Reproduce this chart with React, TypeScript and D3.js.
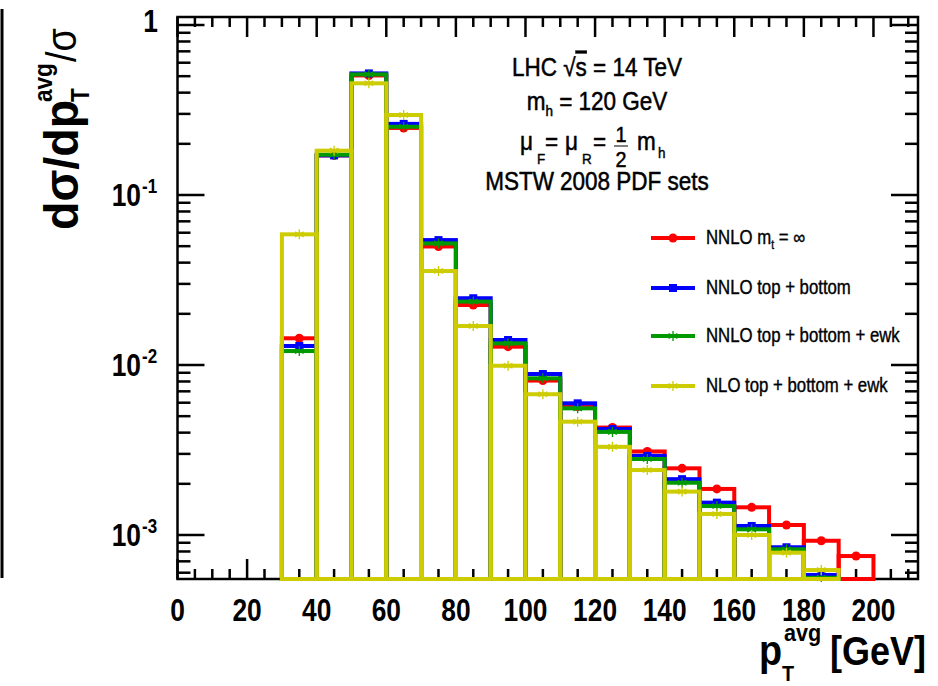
import React from 'react';
import * as d3 from 'd3';

// Bin lower edges in GeV; every bin is 10 GeV wide
const binLow = [30, 40, 50, 60, 70, 80, 90, 100, 110, 120, 130, 140, 150, 160, 170, 180, 190];
const binWidth = 10;

// Normalised distributions dσ/dp_T^avg / σ per bin
const nnloMtInf = [0.01436, 0.171, 0.505, 0.248, 0.0498, 0.02254, 0.01282, 0.0081, 0.0057, 0.004286, 0.0031, 0.002467, 0.001866, 0.001455, 0.001145, 0.000925, 0.000752];
const nnloTopBottom = [0.01294, 0.171, 0.519, 0.262, 0.0543, 0.0247, 0.01403, 0.00885, 0.00595, 0.0042, 0.00292, 0.00213, 0.00155, 0.00113, 0.000847, 0.000582, 0.00044];
const nnloTopBottomEwk = [0.01208, 0.1726, 0.512, 0.252, 0.0519, 0.0236, 0.0134, 0.00835, 0.00556, 0.00404, 0.0028, 0.00203, 0.00148, 0.00108, 0.000824, 0.00056, 0.00043];
const nloTopBottomEwk = [0.0587, 0.1823, 0.454, 0.2955, 0.0357, 0.01695, 0.0099, 0.00673, 0.00464, 0.0033, 0.00241, 0.0018, 0.00133, 0.001, 0.000787, 0.000622, 0.00048];

const xTickLabels = [0, 20, 40, 60, 80, 100, 120, 140, 160, 180, 200];
const yDecadeExponents = [0, -1, -2, -3];

const W = 938;
const H = 686;
const frame = { left: 177.5, right: 918, top: 17, bottom: 579 };
const FONT = 'Liberation Sans, Arial, Helvetica, sans-serif';

const x = d3.scaleLinear().domain([0, 212.8]).range([frame.left, frame.right]);
const y = d3.scaleLog().domain([5.51e-4, 1.1145]).range([frame.bottom, frame.top]);

type MarkerKind = 'circle' | 'square' | 'star';

const series: { label: string; values: number[]; color: string; marker: MarkerKind }[] = [
  { label: 'mtinf', values: nnloMtInf, color: '#ff0000', marker: 'circle' },
  { label: 'tb', values: nnloTopBottom, color: '#0000ff', marker: 'square' },
  { label: 'tbewk', values: nnloTopBottomEwk, color: '#009a00', marker: 'star' },
  { label: 'nlo', values: nloTopBottomEwk, color: '#cccc00', marker: 'star' },
];

function Marker({ kind, cx, cy, color }: { kind: MarkerKind; cx: number; cy: number; color: string }) {
  if (kind === 'circle') return <circle cx={cx} cy={cy} r={4.5} fill={color} />;
  if (kind === 'square') return <rect x={cx - 4} y={cy - 4} width={8} height={8} fill={color} />;
  const r = 5;
  const d = [90, 30, 150]
    .map((a) => {
      const t = (a * Math.PI) / 180;
      const dx = r * Math.cos(t);
      const dy = r * Math.sin(t);
      return `M${cx - dx},${cy - dy}L${cx + dx},${cy + dy}`;
    })
    .join('');
  return <path d={d} stroke={color} strokeWidth={1.3} fill="none" />;
}

function Txt({
  x: tx,
  y: ty,
  size,
  sx = 1,
  bold = false,
  heavy = 0,
  anchor = 'start',
  rotate = 0,
  children,
}: {
  x: number;
  y: number;
  size: number;
  sx?: number;
  bold?: boolean;
  heavy?: number;
  anchor?: 'start' | 'middle' | 'end';
  rotate?: number;
  children: React.ReactNode;
}) {
  return (
    <text
      transform={`translate(${tx},${ty}) rotate(${rotate}) scale(${sx},1)`}
      fontSize={size}
      fontWeight={bold ? 'bold' : 'normal'}
      textAnchor={anchor}
      fontFamily={FONT}
      fill="#000"
      stroke={heavy > 0 ? '#000' : 'none'}
      strokeWidth={heavy}
    >
      {children}
    </text>
  );
}

export default function App() {
  const yMin = y.domain()[0];

  // x ticks every 5 GeV, long every 20 GeV
  const xTicks = d3.range(0, 212.8, 5);
  // y ticks: decades long, 2..9 short
  const yTicks: { v: number; major: boolean }[] = [];
  for (let k = -4; k <= 0; k++) {
    for (let m = 1; m <= 9; m++) {
      const v = m * Math.pow(10, k);
      if (v >= y.domain()[0] && v <= y.domain()[1]) yTicks.push({ v, major: m === 1 });
    }
  }

  const legendItems = [
    { s: series[0], y: 238, text: (
      <>
        NNLO m<tspan fontSize={12} dy={5}>t</tspan>
        <tspan dy={-5}> = ∞</tspan>
      </>
    ) },
    { s: series[1], y: 288, text: <>NNLO top + bottom</> },
    { s: series[2], y: 336, text: <>NNLO top + bottom + ewk</> },
    { s: series[3], y: 386, text: <>NLO top + bottom + ewk</> },
  ];

  return (
    <div style={{ position: 'absolute', left: 0, top: 0 }}>
      <svg width={W} height={H} style={{ display: 'block', background: '#fff' }}>
        <defs>
          <clipPath id="plotClip">
            <rect x={frame.left} y={frame.top} width={frame.right - frame.left} height={frame.bottom - frame.top + 3} />
          </clipPath>
        </defs>
        <rect x={0} y={0} width={W} height={H} fill="#fff" />

        {/* left border line of the canvas */}
        <line x1={2} x2={2} y1={9} y2={578} stroke="#000" strokeWidth={3} />

        {/* frame */}
        <rect
          x={frame.left}
          y={frame.top}
          width={frame.right - frame.left}
          height={frame.bottom - frame.top}
          fill="none"
          stroke="#000"
          strokeWidth={2.5}
        />

        {/* x ticks (bottom and top) */}
        {xTicks.map((t) => {
          const len = t % 20 === 0 ? 20 : 10;
          const px = x(t);
          return (
            <g key={`xt${t}`} stroke="#000" strokeWidth={2.5}>
              <line x1={px} x2={px} y1={frame.bottom} y2={frame.bottom - len} />
              <line x1={px} x2={px} y1={frame.top} y2={frame.top + len} />
            </g>
          );
        })}

        {/* y ticks (left and right) */}
        {yTicks.map(({ v, major }, i) => {
          const len = major ? 27 : 13;
          const py = y(v);
          return (
            <g key={`yt${i}`} stroke="#000" strokeWidth={2.5}>
              <line x1={frame.left} x2={frame.left + len} y1={py} y2={py} />
              <line x1={frame.right} x2={frame.right - len} y1={py} y2={py} />
            </g>
          );
        })}

        {/* histograms */}
        <g clipPath="url(#plotClip)">
          {series.map((s) => (
            <g key={s.label}>
              {s.values.map((v, i) =>
                v >= yMin ? (
                  <rect
                    key={`r${i}`}
                    x={x(binLow[i])}
                    y={y(v)}
                    width={x(binLow[i] + binWidth) - x(binLow[i])}
                    height={frame.bottom - y(v)}
                    fill="none"
                    stroke={s.color}
                    strokeWidth={4}
                  />
                ) : null
              )}
              {s.values.map((v, i) =>
                v >= yMin ? (
                  <Marker key={`m${i}`} kind={s.marker} cx={x(binLow[i] + binWidth / 2)} cy={y(v)} color={s.color} />
                ) : null
              )}
            </g>
          ))}
        </g>

        {/* x tick labels */}
        {xTickLabels.map((t) => (
          <Txt key={`xl${t}`} x={x(t)} y={621} size={31} sx={0.85} bold anchor="middle">
            {t}
          </Txt>
        ))}

        {/* y tick labels */}
        {yDecadeExponents.map((k) => {
          const py = y(Math.pow(10, k));
          if (k === 0) {
            return (
              <Txt key="yl0" x={158} y={py + 7} size={31} sx={0.85} bold anchor="end">
                1
              </Txt>
            );
          }
          return (
            <g key={`yl${k}`}>
              <Txt x={141} y={py + 11} size={31} sx={0.85} bold anchor="end">
                10
              </Txt>
              <Txt x={142} y={py - 2} size={20} sx={0.85} bold>
                {`-${-k}`}
              </Txt>
            </g>
          );
        })}

        {/* x axis title */}
        <Txt x={759} y={665} size={42} sx={0.9} bold>
          p
        </Txt>
        <Txt x={782} y={681} size={22} sx={0.9} bold>
          T
        </Txt>
        <Txt x={784} y={641} size={24} sx={0.9} bold>
          avg
        </Txt>
        <Txt x={926} y={665} size={40} sx={0.9} bold anchor="end">
          [GeV]
        </Txt>

        {/* y axis title */}
        <Txt x={78} y={230} size={48} sx={0.97} bold rotate={-90}>
          dσ/dp
        </Txt>
        <Txt x={89} y={102} size={25} sx={0.9} bold rotate={-90}>
          T
        </Txt>
        <Txt x={52} y={102} size={25} sx={0.9} bold rotate={-90}>
          avg
        </Txt>
        <Txt x={76} y={62} size={42} sx={0.9} rotate={-90}>
          /σ
        </Txt>

        {/* annotation */}
        <Txt x={597} y={76} size={25} sx={0.9} heavy={0.5} anchor="middle">
          LHC √<tspan style={{ textDecoration: 'overline' }}>s</tspan> = 14 TeV
        </Txt>
        <Txt x={597} y={110} size={25} sx={0.9} heavy={0.5} anchor="middle">
          m<tspan fontSize={15} dy={6}>h</tspan>
          <tspan dy={-6}> = 120 GeV</tspan>
        </Txt>
        <Txt x={520} y={150} size={25} sx={0.9} heavy={0.5}>μ</Txt>
        <Txt x={537} y={164} size={15} sx={0.9} heavy={0.4}>F</Txt>
        <Txt x={545} y={150} size={25} sx={0.9} heavy={0.5}>=</Txt>
        <Txt x={565} y={150} size={25} sx={0.9} heavy={0.5}>μ</Txt>
        <Txt x={582} y={164} size={15} sx={0.9} heavy={0.4}>R</Txt>
        <Txt x={593} y={150} size={25} sx={0.9} heavy={0.5}>=</Txt>
        <Txt x={621} y={142} size={22} sx={0.9} heavy={0.5} anchor="middle">1</Txt>
        <line x1={614} x2={628} y1={146} y2={146} stroke="#000" strokeWidth={1} />
        <Txt x={621} y={167} size={22} sx={0.9} heavy={0.5} anchor="middle">2</Txt>
        <Txt x={637} y={150} size={25} sx={0.9} heavy={0.5}>m</Txt>
        <Txt x={658} y={158} size={15} sx={0.9} heavy={0.4}>h</Txt>
        <Txt x={597} y={190} size={25} sx={0.9} heavy={0.5} anchor="middle">
          MSTW 2008 PDF sets
        </Txt>

        {/* legend */}
        {legendItems.map(({ s, y: ly, text }) => (
          <g key={`lg${s.label}`}>
            <line x1={651} x2={695} y1={ly} y2={ly} stroke={s.color} strokeWidth={4} />
            <Marker kind={s.marker} cx={673} cy={ly} color={s.color} />
            <Txt x={706} y={ly + 6} size={19.5} sx={0.86} heavy={0.4}>
              {text}
            </Txt>
          </g>
        ))}
      </svg>
    </div>
  );
}
